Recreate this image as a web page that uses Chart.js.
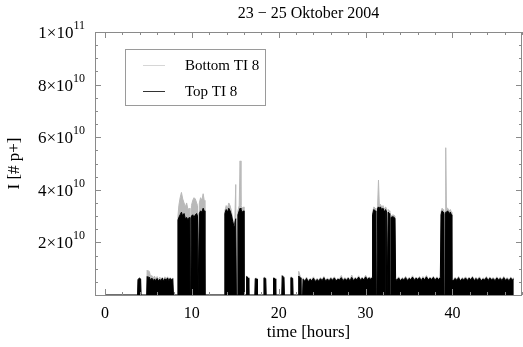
<!DOCTYPE html>
<html>
<head>
<meta charset="utf-8">
<script src="https://cdn.jsdelivr.net/npm/chart.js@4"></script>
<style>
  body { margin: 0; background: #fff; }
  #chart { display: block; }
</style>
</head>
<body>
<canvas id="chart" width="523" height="347"></canvas>
<script>
// hours since start, intensities in units of 1e9 protons
const hours = [
  0, 3.75, 3.8, 3.95, 4.1, 4.15, 4.8,
  4.85, 4.95, 5.1, 5.25, 5.4, 5.55, 5.7, 5.85, 6.0, 6.15, 6.3, 6.45, 6.6, 6.75, 6.9, 7.05, 7.2, 7.35, 7.5, 7.65, 7.8, 7.88, 8.35,
  8.4, 8.5, 8.65, 8.8, 8.95, 9.1, 9.25, 9.4, 9.55, 9.7, 9.78, 9.88, 9.95, 10.1, 10.25, 10.4, 10.55, 10.65, 10.72, 10.8, 10.86, 11.0, 11.15, 11.3, 11.42, 11.5, 13.75,
  13.8, 13.95, 14.1, 14.25, 14.4, 14.55, 14.7, 14.85, 14.95, 15.05, 15.12, 15.22, 15.3, 15.45, 15.55, 15.65, 15.8, 15.95, 16.0,
  16.25, 16.3, 16.5, 16.55, 17.25, 17.3, 17.5, 17.55, 18.25, 18.3, 18.5, 18.55, 19.35, 19.4, 19.6, 19.65,
  20.35, 20.4, 20.6, 20.65, 21.35, 21.4, 21.6, 21.65, 22.25, 22.3, 22.5, 22.55, 22.75,
  22.8, 23.0, 23.2, 23.4, 23.6, 23.8, 24.0, 24.2, 24.4, 24.6, 24.8, 25.0, 25.2, 25.4, 25.6, 25.8, 26.0, 26.2, 26.4, 26.6, 26.8,
  27.0, 27.2, 27.4, 27.6, 27.8, 28.0, 28.2, 28.4, 28.6, 28.8, 29.0, 29.2, 29.4, 29.6, 29.8, 30.0, 30.2, 30.4, 30.6, 30.75,
  30.8, 30.95, 31.1, 31.18, 31.3, 31.38, 31.48, 31.58, 31.7, 31.85, 32.0, 32.12, 32.18, 32.24, 32.3, 32.42, 32.48, 32.54, 32.6, 32.72, 32.78, 32.88,
  32.92, 33.15, 33.38, 33.45,
  33.6, 33.8, 34.0, 34.2, 34.4, 34.6, 34.8, 35.0, 35.2, 35.4, 35.6, 35.8, 36.0, 36.2, 36.4, 36.6, 36.8, 37.0, 37.2, 37.4, 37.6, 37.8, 38.0, 38.2, 38.4, 38.6,
  38.68, 38.8, 38.92, 38.98, 39.12, 39.15, 39.22, 39.3, 39.45, 39.6, 39.75, 39.88, 39.92,
  40.1, 40.3, 40.5, 40.7, 40.9, 41.1, 41.3, 41.5, 41.7, 41.9, 42.1, 42.3, 42.5, 42.7, 42.9, 43.1, 43.3, 43.5, 43.7, 43.9,
  44.1, 44.3, 44.5, 44.7, 44.9, 45.1, 45.3, 45.5, 45.7, 45.9, 46.1, 46.3, 46.5, 46.7, 46.9, 47.05
];

const topTI8 = [
  0, 0, 5.8, 6.4, 6.1, 0, 0,
  7.0, 6.2, 6.8, 5.6, 6.4, 5.5, 6.1, 5.4, 6.3, 5.3, 6.0, 5.5, 6.4, 5.2, 6.2, 5.6, 6.5, 5.4, 6.3, 5.7, 6.2, 0, 0,
  28.5, 29.5, 30.5, 31.5, 30, 31, 29, 29.5, 28.5, 29.5, 0, 0, 30, 30.5, 29.5, 30.5, 31, 30, 0, 0, 31, 32, 31.5, 33, 32, 0, 0,
  31, 32.5, 31.5, 33, 32, 30.5, 28, 26, 27.5, 29, 0, 0, 30.5, 32, 33, 32.5, 31.5, 32, 0,
  0, 7.0, 6.4, 0, 0, 6.2, 6.0, 0, 0, 6.5, 6.2, 0, 0, 6.4, 6.1, 0,
  0, 7.3, 6.6, 0, 0, 6.6, 6.3, 0, 0, 7.2, 6.5, 0, 0,
  6.0, 5.2, 6.3, 5.0, 6.0, 5.4, 6.4, 5.1, 5.9, 5.3, 6.2, 5.5, 6.6, 5.2, 6.1, 5.4, 6.3, 5.6, 6.5, 5.3, 6.0,
  5.7, 6.6, 5.4, 6.2, 5.6, 6.4, 5.3, 6.7, 5.5, 6.3, 5.8, 6.8, 5.6, 6.4, 5.7, 6.9, 5.9, 6.5, 6.0, 6.6,
  30.5, 32.5, 32, 0, 0, 33, 33.5, 33, 33.5, 32.5, 33, 32, 0, 0, 32.5, 31.5, 0, 0, 31.5, 31, 0, 0,
  29.5, 29.8, 29.2, 6.2,
  5.5, 6.5, 5.4, 6.2, 5.7, 6.6, 5.5, 6.3, 5.8, 6.8, 5.6, 6.4, 5.9, 6.6, 5.5, 6.5, 5.8, 6.9, 5.7, 6.4, 5.9, 6.7, 5.6, 6.5, 5.9, 6.6,
  30.5, 32, 31.5, 0, 0, 31, 31.5, 31.5, 32, 31, 31.5, 30.5, 6.0,
  5.4, 6.3, 5.6, 6.6, 5.3, 6.2, 5.7, 6.5, 5.5, 6.4, 5.8, 6.7, 5.4, 6.3, 5.6, 6.5, 5.3, 6.1, 5.7, 6.6,
  5.5, 6.4, 5.8, 6.2, 5.4, 6.5, 5.7, 6.3, 5.5, 6.6, 5.6, 6.2, 5.4, 6.4, 5.8, 6.1
];

const bottomTI8 = [
  0, 0, 6.0, 6.6, 6.2, 0, 0,
  9.4, 8.6, 9.0, 7.0, 7.4, 6.3, 7.2, 6.0, 7.0, 5.9, 6.8, 6.2, 6.7, 5.8, 6.9, 6.1, 6.9, 5.9, 6.6, 6.0, 6.5, 0, 0,
  30, 34, 37, 39, 36.5, 35, 33.5, 35, 32.5, 33, 0, 0, 34, 36, 37, 36.5, 35, 34, 0, 0, 35, 37, 36, 38.5, 36, 0, 0,
  32, 34, 33, 35, 34, 32, 29, 27, 29, 42, 0, 0, 32, 34, 51, 34, 33, 33.5, 0,
  0, 7.2, 6.8, 0, 0, 6.4, 6.3, 0, 0, 6.8, 6.5, 0, 0, 6.6, 6.4, 0,
  0, 7.6, 6.9, 0, 0, 6.9, 6.5, 0, 0, 9.0, 6.8, 0, 0,
  6.5, 5.6, 6.8, 5.5, 6.3, 5.9, 6.9, 5.6, 6.3, 5.7, 6.6, 5.9, 7.0, 5.6, 6.4, 5.8, 6.7, 6.0, 6.9, 5.7, 6.4,
  6.1, 7.4, 5.8, 6.6, 6.0, 6.8, 5.7, 7.6, 5.9, 6.7, 6.2, 7.3, 6.0, 6.8, 6.1, 7.5, 6.3, 6.8, 6.4, 7.0,
  31.5, 33.5, 33, 0, 0, 34, 43.7, 34, 34.5, 33.5, 34, 33, 0, 0, 33.5, 32.5, 0, 0, 32.5, 32, 0, 0,
  30, 30.5, 30, 6.6,
  5.9, 6.9, 5.8, 6.6, 6.1, 7.1, 5.9, 6.7, 6.2, 7.3, 6.0, 6.8, 6.3, 7.0, 5.9, 7.0, 6.2, 7.4, 6.1, 6.8, 6.3, 7.1, 6.0, 6.9, 6.3, 7.0,
  31.5, 33, 32.5, 0, 0, 32, 56, 33, 33, 32, 32.5, 31.5, 6.4,
  5.8, 6.7, 6.0, 7.0, 5.7, 6.6, 6.1, 6.9, 5.9, 6.8, 6.2, 7.1, 5.8, 6.7, 6.0, 6.9, 5.7, 6.5, 6.1, 7.0,
  5.9, 6.8, 6.2, 6.6, 5.8, 6.9, 6.1, 6.7, 5.9, 7.0, 6.0, 6.6, 5.8, 6.8, 6.2, 6.5
];

const seriesNames = ['Bottom TI 8', 'Top TI 8'];
const xTickLabels = [0, 10, 20, 30, 40];
const yTickLabels = [2e10, 4e10, 6e10, 8e10, 1e11];

const serif = "'Liberation Serif', 'Times New Roman', serif";
Chart.defaults.font.family = serif;
Chart.defaults.color = '#000';

const toPoints = vals => hours.map((h, i) => ({ x: h, y: vals[i] * 1e9 }));

// frame with inward ticks, like the original plot
const frameTicks = {
  id: 'frameTicks',
  afterDatasetsDraw(chart) {
    const { ctx, chartArea: a, scales } = chart;
    ctx.save();
    ctx.strokeStyle = '#8a8a8a';
    ctx.lineWidth = 1;
    ctx.strokeRect(a.left + 0.5, a.top + 0.5, a.right - a.left - 1, a.bottom - a.top);
    ctx.beginPath();
    scales.x.ticks.forEach(t => {
      const px = Math.round(scales.x.getPixelForValue(t.value)) + 0.5;
      const len = t.value % 10 === 0 ? 6 : 3;
      ctx.moveTo(px, a.bottom); ctx.lineTo(px, a.bottom - len);
      ctx.moveTo(px, a.top); ctx.lineTo(px, a.top + len);
    });
    scales.y.ticks.forEach(t => {
      const py = Math.round(scales.y.getPixelForValue(t.value)) + 0.5;
      const len = t.value % 2e10 === 0 ? 6 : 3;
      ctx.moveTo(a.left, py); ctx.lineTo(a.left + len, py);
      ctx.moveTo(a.right, py); ctx.lineTo(a.right - len, py);
    });
    ctx.stroke();
    ctx.restore();
  }
};

// y labels like 8×10^10 with a raised exponent
const powerLabels = {
  id: 'powerLabels',
  afterDraw(chart) {
    const { ctx } = chart;
    const y = chart.scales.y;
    const right = chart.chartArea.left - 10;
    ctx.save();
    ctx.fillStyle = '#000';
    ctx.textAlign = 'right';
    ctx.textBaseline = 'alphabetic';
    yTickLabels.forEach(v => {
      const exp = Math.floor(Math.log10(v) + 1e-9);
      const mant = Math.round(v / Math.pow(10, exp));
      const py = y.getPixelForValue(v);
      ctx.font = '12px ' + serif;
      const es = String(exp);
      ctx.fillText(es, right, py - 3);
      const ew = ctx.measureText(es).width;
      ctx.font = '17px ' + serif;
      ctx.fillText(mant + '\u00d710', right - ew, py + 6);
    });
    ctx.restore();
  }
};

// boxed legend inside the plot
const boxLegend = {
  id: 'boxLegend',
  afterDraw(chart) {
    const { ctx, chartArea: a } = chart;
    const left = a.left + 30, top = a.top + 17;
    ctx.save();
    ctx.fillStyle = '#fff';
    ctx.fillRect(left, top, 140, 56);
    ctx.strokeStyle = '#9a9a9a';
    ctx.lineWidth = 1;
    ctx.strokeRect(left + 0.5, top + 0.5, 140, 56);
    ctx.font = '15px ' + serif;
    ctx.textBaseline = 'middle';
    chart.data.datasets.forEach((ds, i) => {
      const ly = top + 16 + i * 26;
      ctx.strokeStyle = ds.legendColor;
      ctx.beginPath();
      ctx.moveTo(left + 18, ly + 0.5);
      ctx.lineTo(left + 40, ly + 0.5);
      ctx.stroke();
      ctx.fillStyle = '#000';
      ctx.fillText(ds.label, left + 60, ly + 1);
    });
    ctx.restore();
  }
};

new Chart(document.getElementById('chart'), {
  type: 'line',
  data: {
    datasets: [
      {
        label: seriesNames[0],
        data: toPoints(bottomTI8),
        borderColor: '#b9b9b9',
        backgroundColor: '#b9b9b9',
        legendColor: '#d6d6d6',
        fill: 'origin',
        order: 2
      },
      {
        label: seriesNames[1],
        data: toPoints(topTI8),
        borderColor: '#000',
        backgroundColor: '#000',
        legendColor: '#333',
        fill: 'origin',
        order: 1
      }
    ]
  },
  options: {
    responsive: false,
    animation: false,
    devicePixelRatio: 1,
    layout: { padding: { left: 0, right: 1, top: 0, bottom: 0 } },
    elements: {
      point: { radius: 0 },
      line: { borderWidth: 1, tension: 0 }
    },
    plugins: {
      legend: { display: false },
      tooltip: { enabled: false },
      title: {
        display: true,
        fullSize: false,
        text: '23 \u2212 25 Oktober 2004',
        font: { size: 16, weight: 'normal' },
        color: '#000',
        padding: { top: 4, bottom: 8.8 }
      }
    },
    scales: {
      x: {
        type: 'linear',
        min: -1.15,
        max: 48,
        grid: { display: false, drawTicks: false },
        border: { display: false },
        ticks: {
          stepSize: 2,
          includeBounds: false,
          autoSkip: false,
          maxRotation: 0,
          padding: 9,
          font: { size: 16 },
          callback: v => xTickLabels.includes(v) ? String(v) : ''
        },
        title: {
          display: true,
          text: 'time [hours]',
          font: { size: 17 },
          padding: { top: 0, bottom: 4 }
        },
        afterFit: s => { s.height = 52; s.paddingLeft = 0; s.paddingRight = 0; }
      },
      y: {
        min: 0,
        max: 1e11,
        grid: { display: false, drawTicks: false },
        border: { display: false },
        ticks: { stepSize: 5e9, display: false },
        title: {
          display: true,
          text: 'I [# p+]',
          font: { size: 17 },
          padding: { top: 4, bottom: 0 }
        },
        afterFit: s => { s.width = 95; s.paddingTop = 0; s.paddingBottom = 0; }
      }
    }
  },
  plugins: [frameTicks, powerLabels, boxLegend]
});
</script>
</body>
</html>
